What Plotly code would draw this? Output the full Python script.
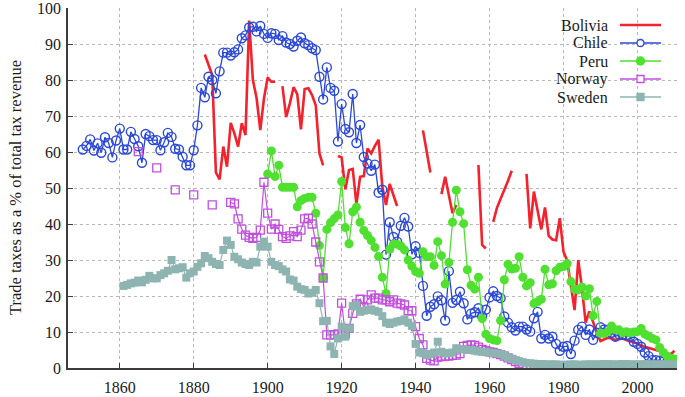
import plotly.graph_objects as go

# ---------------- data ----------------
chile_years = list(range(1850, 2011))
chile = [
    60.7, 61.7, 63.5, 60.4, 62.4, 59.8, 64.1, 62.5, 58.5, 63.2,
    66.5, 60.7, 60.7, 65.6, 63.6, 61.6, 57.0, 65.0, 64.4, 63.3,
    63.3, 60.5, 62.7, 65.3, 64.2, 60.9, 60.7, 58.7, 56.3, 56.3,
    60.5, 67.4, 77.8, 75.2, 80.9, 80.0, 76.3, 82.4, 87.6, 87.6,
    86.8, 87.7, 88.5, 91.6, 92.4, 94.6, 94.8, 93.5, 95.0, 92.8,
    91.7, 93.0, 92.8, 91.1, 92.2, 90.4, 90.0, 89.3, 90.9, 91.8,
    90.2, 89.7, 88.8, 88.3, 80.9, 74.6, 83.5, 77.8, 77.0, 62.9,
    73.3, 66.4, 65.5, 76.1, 62.5, 67.5, 58.6, 56.8, 54.8, 56.5,
    48.7, 49.5, 31.5, 40.5, 36.4, 35.1, 39.5, 41.7, 39.3, 31.6,
    33.8, 32.0, 22.8, 14.5, 17.0, 17.7, 19.9, 18.8, 13.2, 26.9,
    18.1, 18.9, 21.2, 18.0, 13.5, 15.1, 15.5, 16.6, 14.4, 16.2,
    19.6, 21.3, 20.0, 19.4, 14.3, 12.6, 11.3, 10.4, 11.5, 11.5,
    10.7, 10.1, 13.8, 15.6, 8.2, 9.2, 8.2, 8.7, 6.7, 4.8,
    5.9, 6.1, 3.9, 7.6, 10.6, 11.5, 9.2, 10.7, 7.8, 9.8,
    11.3, 10.7, 10.6, 9.8, 8.7, 9.4, 9.2, 9.2, 8.7, 7.3,
    6.7, 5.9, 4.3, 3.3, 2.2, 2.2, 2.0, 1.8, 1.6, 1.5,
    1.6,
]

bolivia_years = list(range(1883, 2011))
bolivia = [
    87.1, 84.0, 81.4, 54.3, 52.4, 61.5, 55.9, 68.1, 65.2, 61.5,          # 1883-1892
    68.0, 64.7, 96.5, 80.0, 75.0, 66.1, 74.9, 80.7, 79.5, 79.5,          # 1893-1902
    None, 78.3, 69.7, 73.5, 78.0, 76.1, 66.3, 77.5, 77.7, 75.8,          # 1903-1912
    73.0, 59.6, 56.3, None, None, None, 58.9, 58.5, 49.6, 55.0,          # 1913-1922
    55.3, 45.5, 53.1, 53.3, 61.0, 59.6, 61.7, 63.4, 50.4, 45.3,          # 1923-1932
    51.1, 48.1, 45.0, None, None, None, None, None, None, 66.0,          # 1933-1942
    60.0, 54.3, None, None, 48.3, 53.1, 48.0, 43.0, 45.3, None,          # 1943-1952
    None, None, None, None, 56.4, 34.2, 33.2, None, 40.6, 44.5,          # 1953-1962
    47.0, 49.4, 52.0, 54.8, None, None, None, 53.9, 38.8, 49.0,          # 1963-1972
    43.9, 38.5, 44.6, 36.7, 35.7, 35.5, 41.6, 32.3, 29.8, 23.5,          # 1973-1982
    16.1, 30.0, 22.2, 12.6, 15.7, 12.8, 9.8, 7.5, 8.0, 8.4,              # 1983-1992
    8.2, 7.8, 8.0, 8.2, 7.8, 7.5, 7.2, 6.8, 6.2, 5.9,                    # 1993-2002
    5.5, 5.2, 4.8, 4.5, 4.2, 4.0, 3.8, 4.8,                              # 2003-2010
]

peru_years = list(range(1900, 2011))
peru = [
    53.9, 60.3, 53.2, 56.3, 50.2, 50.2, 50.2, 50.2, 44.8, 46.5,
    47.1, 47.4, 47.4, 43.0, 34.0, 25.0, 38.5, 40.4, 41.5, 42.5,
    51.8, 39.0, 34.5, 43.4, 44.7, 40.5, 38.2, 36.8, 35.4, 33.5,
    31.0, 25.2, 20.7, 33.0, 34.4, 34.4, 33.9, 32.8, 30.0, 28.3,
    26.8, 26.3, 32.3, 30.9, 30.9, 28.5, 35.1, 31.2, 23.3, 29.3,
    40.5, 49.4, 43.4, 40.1, 27.3, 23.0, 21.9, 25.2, 13.7, 9.4,
    8.2, 7.8, 7.6, 13.2, 24.5, 28.8, 27.5, 27.7, 30.9, 25.2,
    22.8, 23.7, 17.9, 18.4, 19.1, 27.4, 23.1, 23.4, 27.0, 28.0,
    28.2, 29.0, 24.0, 21.9, 21.7, 22.5, 20.0, 22.0, 14.5, 18.5,
    9.6, 9.6, 10.1, 11.7, 10.6, 10.6, 9.8, 10.1, 9.8, 10.0,
    10.1, 11.0, 9.4, 8.9, 8.2, 7.8, 5.7, 4.3, 3.3, 2.7,
    2.5,
]

norway_years = list(range(1865, 2011))
norway = [
    60.1, None, None, None, None, 55.6, None, None, None, None,          # 1865-1874
    49.5, None, None, None, None, 48.1, None, None, None, None,          # 1875-1884
    45.3, None, None, None, None, 46.0, 45.6, 41.4, 38.6, 36.9,          # 1885-1894
    36.3, 36.0, 36.3, 38.3, 51.6, 43.0, 38.6, 40.0, 38.5, 36.5,          # 1895-1904
    36.0, 36.7, 37.9, 36.5, 38.3, 41.4, 41.6, 40.0, 35.0, 29.5,          # 1905-1914
    25.0, 9.2, 9.2, 9.2, 9.5, 18.0, 9.5, 11.0, 15.2, 17.8,               # 1915-1924
    19.1, 17.0, 18.9, 20.3, 19.4, 19.4, 18.9, 18.9, 18.4, 18.9,          # 1925-1934
    18.0, 17.8, 17.5, 15.9, 15.9, 11.5, 8.2, 6.4, 2.7, 2.2,              # 1935-1944
    2.0, 3.0, 3.2, 3.3, 3.3, 3.5, 3.6, 4.0, 6.0, 6.3,                    # 1945-1954
    6.4, 6.3, 5.8, 5.2, 4.8, 4.5, 4.3, 4.0, 3.7, 3.3,                    # 1955-1964
    2.8, 2.3, 1.8, 1.3, 0.9, 0.6, 0.4, 0.3, 0.2, 0.2,                    # 1965-1974
    0.3, 0.2, 0.2, 0.3, 0.2, 0.2, 0.3, 0.2, 0.2, 0.2,                    # 1975-1984
    0.3, 0.2, 0.2, 0.2, 0.3, 0.2, 0.2, 0.2, 0.3, 0.2,                    # 1985-1994
    0.2, 0.2, 0.3, 0.2, 0.2, 0.2, 0.2, 0.3, 0.2, 0.2,                    # 1995-2004
    0.2, 0.2, 0.3, 0.2, 0.2, 0.2,                                        # 2005-2010
]

sweden_years = list(range(1861, 2011))
sweden = [
    22.8, 23.1, 23.5, 23.7, 24.3, 23.8, 24.5, 25.6, 24.9,                # 1861-1869
    24.9, 25.8, 26.3, 27.0, 30.0, 27.4, 27.7, 28.0, 25.1, 26.3,          # 1870-1879
    26.8, 28.1, 29.1, 31.1, 30.5, 29.5, 28.9, 28.6, 32.8, 35.4,          # 1880-1889
    34.2, 30.9, 30.2, 29.3, 28.9, 28.6, 29.5, 29.3, 33.7, 35.1,          # 1890-1899
    33.7, 29.5, 28.6, 28.3, 27.4, 26.8, 24.6, 24.3, 22.6, 21.9,          # 1900-1909
    21.7, 20.7, 20.9, 21.7, 18.0, 13.0, 13.1, 6.0, 3.9, 8.2,             # 1910-1919
    11.5, 8.7, 11.0, 17.2, 17.5, 15.6, 15.9, 16.1, 16.3, 15.9,           # 1920-1929
    15.6, 14.4, 12.6, 12.2, 12.6, 12.9, 13.1, 13.5, 12.6, 11.7,          # 1930-1939
    6.7, 4.3, 4.1, 3.6, 3.9, 4.3, 7.3, 4.5, 4.1, 4.1,                    # 1940-1949
    4.3, 5.5, 5.2, 5.2, 5.0, 5.0, 4.8, 4.6, 4.5, 4.4,                    # 1950-1959
    4.3, 4.2, 4.0, 3.9, 3.5, 3.0, 2.6, 2.2, 1.9, 1.6,                    # 1960-1969
    1.4, 1.3, 1.2, 1.1, 1.1, 1.0, 1.0, 1.0, 1.0, 0.9,                    # 1970-1979
    0.9, 0.9, 1.0, 1.0, 0.9, 0.9, 1.0, 1.0, 1.0, 1.0,                    # 1980-1989
    1.0, 1.1, 1.1, 1.0, 1.0, 1.0, 1.1, 1.1, 1.0, 1.0,                    # 1990-1999
    1.0, 1.0, 1.1, 1.0, 1.0, 1.0, 1.0, 1.0, 1.0, 1.0, 1.0,               # 2000-2010
]

x_ticks = [1860, 1880, 1900, 1920, 1940, 1960, 1980, 2000]
y_ticks = [0, 10, 20, 30, 40, 50, 60, 70, 80, 90, 100]
legend_names = ["Bolivia", "Chile", "Peru", "Norway", "Sweden"]

# ---------------- style ----------------
RED = "#f4222c"
BLUE = "#2a48d8"
GREEN = "#4fe030"
PURPLE = "#c24ee0"
TEAL = "#8db4b0"
FONT = "Liberation Serif"

fig = go.Figure()
fig.add_trace(go.Scatter(x=bolivia_years, y=bolivia, name="Bolivia", mode="lines",
                         line=dict(color=RED, width=2.6), connectgaps=False))
fig.add_trace(go.Scatter(x=chile_years, y=chile, name="Chile", mode="lines+markers",
                         line=dict(color=BLUE, width=1.3),
                         marker=dict(symbol="circle-open", size=9, color=BLUE, line=dict(width=1.4))))
fig.add_trace(go.Scatter(x=peru_years, y=peru, name="Peru", mode="lines+markers",
                         line=dict(color=GREEN, width=1.3),
                         marker=dict(symbol="circle", size=9, color=GREEN)))
fig.add_trace(go.Scatter(x=norway_years, y=norway, name="Norway", mode="lines+markers",
                         line=dict(color=PURPLE, width=1.2), connectgaps=False,
                         marker=dict(symbol="square-open", size=8, color=PURPLE, line=dict(width=1.3))))
fig.add_trace(go.Scatter(x=sweden_years, y=sweden, name="Sweden", mode="lines+markers",
                         line=dict(color=TEAL, width=1.2),
                         marker=dict(symbol="square", size=8, color=TEAL)))

# ---------------- custom legend (text left of sample, as in the reference) ----------------
L, R, T, B = 68, 8, 8, 29
W, H = 685, 397
pw, ph = W - L - R, H - T - B


def px_x(v):
    return (v - L) / pw


def px_y(v):
    return (H - B - v) / ph


legend_y = [25, 43, 61, 79, 97]
colors = [RED, BLUE, GREEN, PURPLE, TEAL]
shapes = []
annotations = []
for name, yy, col in zip(legend_names, legend_y, colors):
    annotations.append(dict(text=name, x=px_x(610), y=px_y(yy), xref="paper", yref="paper",
                            xanchor="right", yanchor="middle", showarrow=False,
                            font=dict(family=FONT, size=16, color="#1a1a1a")))
    shapes.append(dict(type="line", xref="paper", yref="paper",
                       x0=px_x(620), x1=px_x(661), y0=px_y(yy), y1=px_y(yy),
                       line=dict(color=col, width=2.6 if name == "Bolivia" else 1.3)))

mx = px_x(640.5)
marker_specs = {
    "Chile": ("circle", "white", BLUE, 3.5),
    "Peru": ("circle", GREEN, GREEN, 4),
    "Norway": ("rect", "white", PURPLE, 3.5),
    "Sweden": ("rect", TEAL, TEAL, 3.5),
}
for name, yy in zip(legend_names, legend_y):
    if name not in marker_specs:
        continue
    typ, fill, lc, r = marker_specs[name]
    shapes.append(dict(type=typ, xref="paper", yref="paper",
                       xsizemode="pixel", ysizemode="pixel",
                       xanchor=mx, yanchor=px_y(yy),
                       x0=-r, x1=r, y0=-r, y1=r,
                       fillcolor=fill, line=dict(color=lc, width=1.3)))

annotations.append(dict(text="Trade taxes as a % of total tax revenue", x=px_x(15), y=px_y(188),
                        xref="paper", yref="paper", xanchor="center", yanchor="middle",
                        textangle=-90, showarrow=False,
                        font=dict(family=FONT, size=16.5, color="#1a1a1a")))

axis_common = dict(showgrid=True, griddash="dot", gridcolor="#b8b8b8", gridwidth=1,
                   showline=True, linecolor="#3c3c3c", linewidth=1.5,
                   ticks="inside", ticklen=5, tickcolor="#3c3c3c", tickwidth=1.3,
                   zeroline=False, mirror=False, ticklabeloverflow="allow",
                   tickfont=dict(family=FONT, size=16, color="#1a1a1a"))

fig.update_layout(
    width=W, height=H,
    margin=dict(l=L, r=R, t=T, b=B, autoexpand=False),
    paper_bgcolor="white", plot_bgcolor="white",
    showlegend=False,
    shapes=shapes, annotations=annotations,
    xaxis=dict(range=[1846, 2010.7], tickvals=x_ticks, ticklabelstandoff=4, **axis_common),
    yaxis=dict(range=[0, 100], tickvals=y_ticks, ticklabelstandoff=2, **axis_common),
)

fig.write_html("out.html", config={"displayModeBar": False},
               post_script="document.body.style.margin='0';document.body.style.overflow='hidden';")
